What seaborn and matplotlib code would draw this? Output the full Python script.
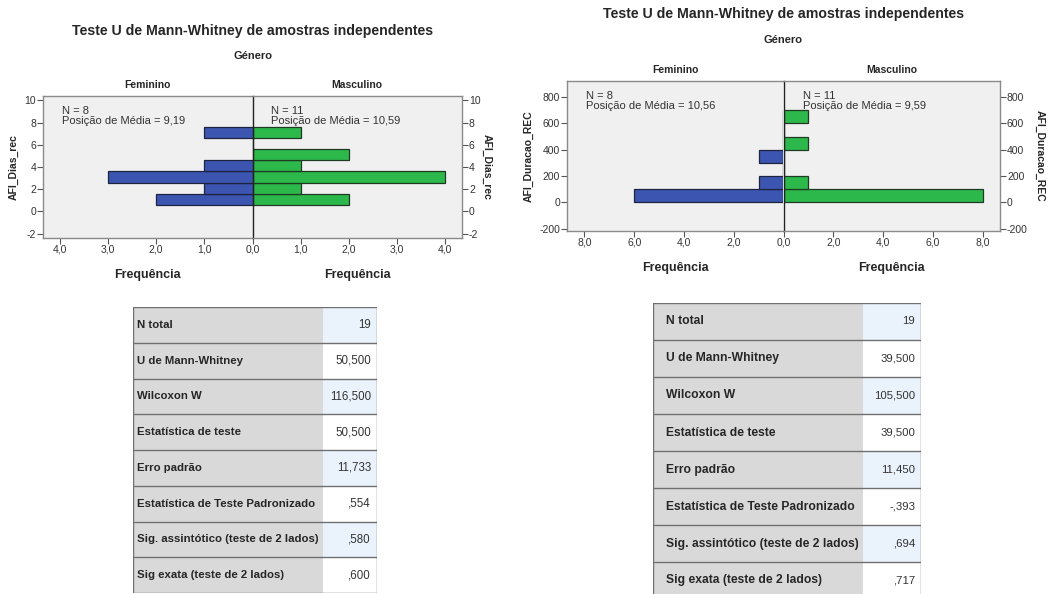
"""
Two SPSS-style Mann-Whitney panels (population pyramids) with summary tables.
"""
import matplotlib
matplotlib.use('Agg')
import matplotlib.pyplot as plt
from matplotlib.patches import Rectangle
from matplotlib.ticker import FuncFormatter
import numpy as np
import pandas as pd
import seaborn as sns

# ---- data ----
dias_values = [1, 2, 3, 4, 5, 6, 7]
dias_fem = [2, 1, 3, 1, 0, 0, 1]
dias_masc = [2, 1, 4, 1, 2, 0, 1]

dur_values = [50, 150, 250, 350, 450, 550, 650]
dur_fem = [6, 1, 0, 1, 0, 0, 0]
dur_masc = [8, 1, 0, 0, 1, 0, 1]

dias_note_fem = "N = 8\nPosição de Média = 9,19"
dias_note_masc = "N = 11\nPosição de Média = 10,59"
dur_note_fem = "N = 8\nPosição de Média = 10,56"
dur_note_masc = "N = 11\nPosição de Média = 9,59"

stat_labels = ["N total", "U de Mann-Whitney", "Wilcoxon W", "Estatística de teste",
               "Erro padrão", "Estatística de Teste Padronizado",
               "Sig. assintótico (teste de 2 lados)", "Sig exata (teste de 2 lados)"]
dias_stats = ["19", "50,500", "116,500", "50,500", "11,733", ",554", ",580", ",600"]
dur_stats = ["19", "39,500", "105,500", "39,500", "11,450", "-,393", ",694", ",717"]

title = "Teste U de Mann-Whitney de amostras independentes"

# ---- style ----
W, H = 1061, 594
BLUE = "#3b55b0"
GREEN = "#2db84b"
BG = "#f0f0f0"
FRAME = "#8a8a8a"
TXT = "#333333"

sns.set_style("white")
plt.rcParams['font.family'] = ['Liberation Sans', 'DejaVu Sans']
plt.rcParams['axes.unicode_minus'] = False

fig = plt.figure(figsize=(W / 100, H / 100), dpi=100)


def px_axes(x0, y0, x1, y1):
    return fig.add_axes([x0 / W, 1 - y1 / H, (x1 - x0) / W, (y1 - y0) / H])


comma = FuncFormatter(lambda v, p: f"{v:.1f}".replace('.', ','))


def pyramid(box, values, fem, masc, binwidth, binrange, xmax, xticks,
            ylim, yticks, ylabel, notes, title_y, genero_y, rpad):
    x0, y0, x1, y1 = box
    xc = (x0 + x1) / 2
    axf = px_axes(x0, y0, xc, y1)
    axm = px_axes(xc, y0, x1, y1)
    df = pd.DataFrame({"v": values, "f": fem, "m": masc})
    sns.histplot(data=df, y="v", weights="f", binwidth=binwidth, binrange=binrange,
                 ax=axf, color=BLUE, edgecolor="#1e2440", linewidth=0.9, alpha=1)
    sns.histplot(data=df, y="v", weights="m", binwidth=binwidth, binrange=binrange,
                 ax=axm, color=GREEN, edgecolor="#1e3a22", linewidth=0.9, alpha=1)
    for ax in (axf, axm):
        ax.set_facecolor(BG)
        ax.set_ylim(*ylim)
        ax.set_yticks(yticks)
        ax.xaxis.set_major_formatter(comma)
        ax.tick_params(axis='both', labelsize=7.5, colors="#555555", labelcolor=TXT,
                       length=4, width=0.8, direction='out', pad=1)
        for s in ax.spines.values():
            s.set_color(FRAME)
            s.set_linewidth(1.0)
        ax.set_xlabel("Frequência", fontsize=9, fontweight='bold', labelpad=10)
    axf.set_xlim(xmax, 0)
    axm.set_xlim(0, xmax)
    axf.set_xticks([t for t in xticks if t > 0])
    axm.set_xticks(xticks)
    axf.spines['right'].set_visible(False)
    axm.spines['left'].set_color("#222222")
    axf.tick_params(axis='y', left=True, right=False)
    axf.tick_params(axis='x', bottom=True)
    axm.tick_params(axis='x', bottom=True)
    axm.yaxis.tick_right()
    axm.yaxis.set_label_position('right')
    axm.tick_params(axis='y', right=True, left=False)
    axf.set_ylabel(ylabel, fontsize=7.5, fontweight='bold', labelpad=4)
    axm.set_ylabel(ylabel, fontsize=7.5, fontweight='bold', rotation=270, labelpad=rpad)
    axf.set_title("Feminino", fontsize=7.5, fontweight='bold', pad=6)
    axm.set_title("Masculino", fontsize=7.5, fontweight='bold', pad=6)
    for ax, note in zip((axf, axm), notes):
        ax.text(0.09, 0.93, note, transform=ax.transAxes,
                fontsize=8, color=TXT, va='top', ha='left', linespacing=0.95)
    fig.text(xc / W, 1 - title_y / H, title, fontsize=10.2, fontweight='bold',
             ha='center', va='center')
    fig.text(xc / W, 1 - genero_y / H, "Género", fontsize=8, fontweight='bold',
             ha='center', va='center')


pyramid((43, 96, 462, 238), dias_values, dias_fem, dias_masc, 1, (0.6, 7.6),
        4.35, [0, 1, 2, 3, 4], (-2.4, 10.4), [-2, 0, 2, 4, 6, 8, 10], "AFI_Dias_rec",
        (dias_note_fem, dias_note_masc), 31, 56, 8)
pyramid((567, 81, 1000, 231), dur_values, dur_fem, dur_masc, 100, (0, 700),
        8.7, [0, 2, 4, 6, 8], (-218, 922), [-200, 0, 200, 400, 600, 800],
        "AFI_Duracao_REC", (dur_note_fem, dur_note_masc), 14, 40, 12)


def stats_table(box, split, labels, vals, fs, vfs, lpad):
    x0, y0, x1, y1 = box
    ax = px_axes(x0, y0, x1, y1)
    n = len(labels)
    ax.set_xlim(x0, x1)
    ax.set_ylim(n, 0)
    ax.axis('off')
    for i, (lab, val) in enumerate(zip(labels, vals)):
        ax.add_patch(Rectangle((x0, i), split - x0, 1, facecolor="#d9d9d9",
                               edgecolor='none'))
        ax.add_patch(Rectangle((split, i), x1 - split, 1,
                               facecolor="#eaf3fc" if i % 2 == 0 else "white",
                               edgecolor='none'))
        ax.text(x0 + lpad, i + 0.5, lab, fontsize=fs, fontweight='bold',
                va='center', ha='left')
        ax.text(x1 - 6, i + 0.5, val, fontsize=vfs, color=TXT,
                va='center', ha='right')
        ax.plot([x0, x1], [i, i], color="#707070", lw=1.0)
    ax.plot([x0, x1], [n, n], color="#707070", lw=1.0)
    ax.plot([x0, x0], [0, n], color="#707070", lw=1.0)
    ax.plot([x1, x1], [0, n], color="#707070", lw=1.0)


stats_table((133, 307, 377, 593), 323, stat_labels, dias_stats, 8.2, 8.3, 4)
stats_table((653, 303, 921, 599), 863, stat_labels, dur_stats, 8.7, 8.2, 13)

fig.savefig("out.png", dpi=100)
